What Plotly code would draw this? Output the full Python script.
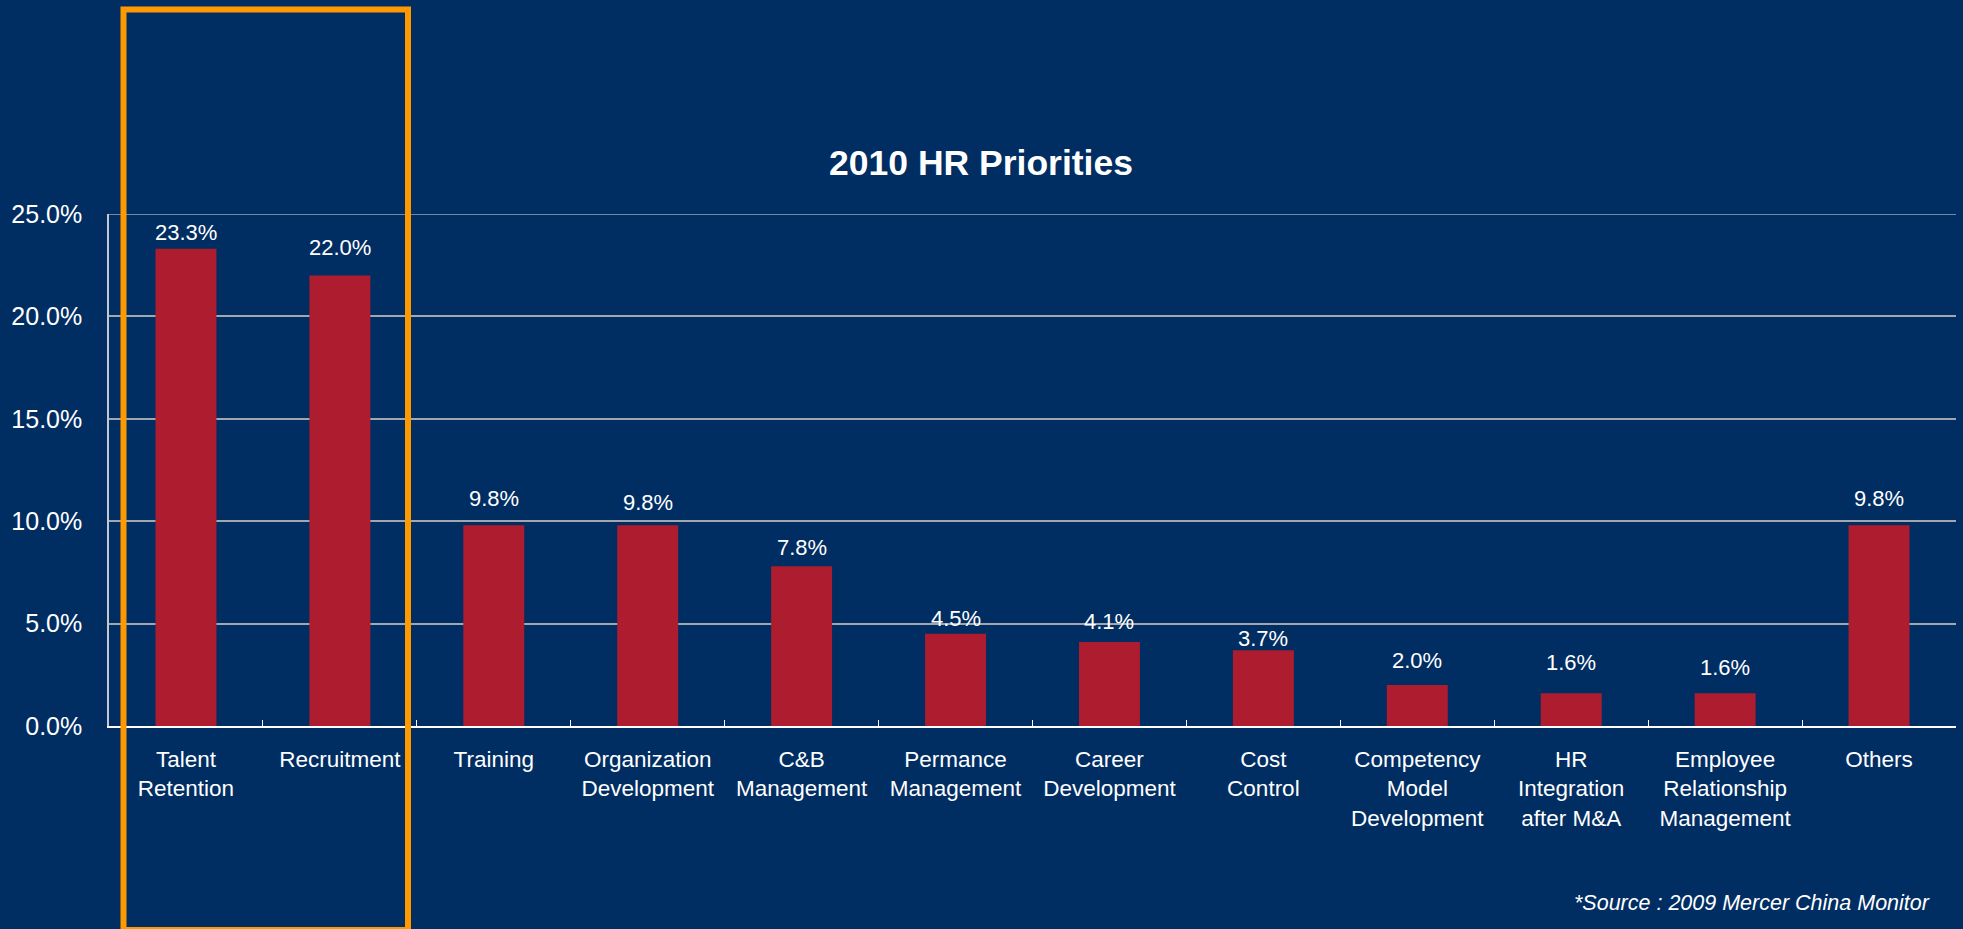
import plotly.graph_objects as go

# 2010 HR priorities, share of respondents (%)
categories = [
    "Talent Retention", "Recruitment", "Training", "Organization Development",
    "C&B Management", "Permance Management", "Career Development", "Cost Control",
    "Competency Model Development", "HR Integration after M&A",
    "Employee Relationship Management", "Others",
]
tick_labels = [
    "Talent<br>Retention", "Recruitment", "Training", "Organization<br>Development",
    "C&B<br>Management", "Permance<br>Management", "Career<br>Development", "Cost<br>Control",
    "Competency<br>Model<br>Development", "HR<br>Integration<br>after M&A",
    "Employee<br>Relationship<br>Management", "Others",
]
values = [23.3, 22.0, 9.8, 9.8, 7.8, 4.5, 4.1, 3.7, 2.0, 1.6, 1.6, 9.8]

y_ticks = [0, 5, 10, 15, 20, 25]
y_tick_labels = ["0.0%", "5.0%", "10.0%", "15.0%", "20.0%", "25.0%"]

# vertical lift (px) of each value label above its bar
label_lift = [16, 28, 27, 23, 19, 15, 21, 12, 25, 31, 26, 27]

NAVY = "#002D62"
BAR = "#AE1C2F"
ORANGE = "#FF9900"
GRID = "#A2A6AE"
FONT = "Liberation Sans, Arial, sans-serif"

W, H = 1963, 929
L, R, T, B = 109, 7, 214, 203
plot_w = W - L - R
plot_h = H - T - B


def px_x(px):
    return (px - L) / plot_w


def px_y(py):
    return (H - B - py) / plot_h


fig = go.Figure(
    go.Bar(
        x=categories,
        y=values,
        marker=dict(color=BAR, line=dict(width=0)),
        hoverinfo="skip",
    )
)

for cat, v, lift in zip(categories, values, label_lift):
    fig.add_annotation(
        x=cat, y=v, xref="x", yref="y",
        text=f"{v:.1f}%", showarrow=False,
        yanchor="middle", yshift=lift,
        font=dict(family=FONT, size=22, color="white"),
    )

# gridline at the top of the value range (edge gridline is not drawn by the axis)
fig.add_shape(
    type="line", xref="paper", yref="y",
    x0=0, x1=1, y0=y_ticks[-1], y1=y_ticks[-1],
    line=dict(color=GRID, width=1.5), layer="below",
)

# highlight box around the two top priorities
fig.add_shape(
    type="rect", xref="paper", yref="paper",
    x0=px_x(123.5), x1=px_x(408), y0=px_y(930), y1=px_y(9.5),
    line=dict(color=ORANGE, width=6), fillcolor="rgba(0,0,0,0)",
    layer="above",
)

fig.add_annotation(
    xref="paper", yref="paper",
    x=px_x(1932), y=px_y(903),
    xanchor="right", yanchor="middle",
    text="<i>*Source : 2009 Mercer China Monitor</i>",
    showarrow=False,
    font=dict(family=FONT, size=21.5, color="white"),
)

fig.update_layout(
    width=W, height=H,
    margin=dict(l=L, r=R, t=T, b=B, pad=0),
    paper_bgcolor=NAVY, plot_bgcolor=NAVY,
    showlegend=False,
    bargap=0.604,
    title=dict(
        text="<b>2010 HR Priorities</b>",
        xref="container", yref="container",
        x=981 / W, y=1 - 163 / H,
        xanchor="center", yanchor="middle",
        font=dict(family=FONT, size=35.5, color="white"),
    ),
    xaxis=dict(
        tickmode="array", tickvals=categories, ticktext=tick_labels,
        range=[-0.5, len(categories) - 0.5],
        showline=True, linecolor="white", linewidth=2,
        ticks="inside", tickson="boundaries", ticklen=6,
        tickcolor="white", tickwidth=1,
        showgrid=False,
        tickfont=dict(family=FONT, size=22.5, color="white"),
        ticklabelstandoff=12,
    ),
    yaxis=dict(
        range=[0, 25],
        tickmode="array", tickvals=y_ticks, ticktext=y_tick_labels,
        showline=True, linecolor="#C3C8D1", linewidth=1.5,
        showgrid=True, gridcolor=GRID, gridwidth=1.5,
        zeroline=False, ticks="",
        tickfont=dict(family=FONT, size=25, color="white"),
        ticklabelstandoff=20,
    ),
)

fig.write_html("out.html")
